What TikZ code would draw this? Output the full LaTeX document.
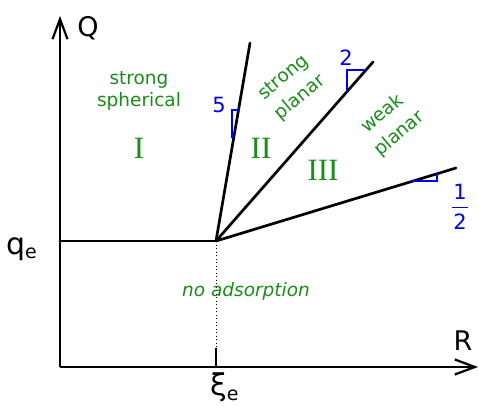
\documentclass[tikz,border=0pt]{standalone}
\usepackage{fontspec}
\setmainfont{DejaVu Sans}
\newfontfamily\romanfont{Liberation Serif}
\usetikzlibrary{arrows.meta}
\definecolor{lblgreen}{RGB}{25,140,25}
\definecolor{lblblue}{RGB}{0,0,240}
\tikzset{
  axisline/.style={line width=2.4pt,-{Straight Barb[length=20pt,width=15pt,line width=2.2pt]}},
  bound/.style={line width=2.7pt,line cap=round},
  slopetri/.style={lblblue,line width=1.2pt},
  regiontxt/.style={lblgreen,font=\fontsize{18.5}{22}\selectfont,align=center,inner sep=0pt},
  rottxt/.style={lblgreen,font=\fontsize{18.5}{26}\selectfont,align=center,inner sep=0pt,rotate=40},
  numeral/.style={lblgreen,font=\romanfont\fontsize{31}{31}\selectfont,inner sep=0pt},
  axislbl/.style={font=\fontsize{27}{27}\selectfont,inner sep=0pt},
  sublbl/.style={font=\fontsize{30}{30}\selectfont,inner sep=0pt},
  slopelbl/.style={lblblue,font=\fontsize{21}{21}\selectfont,inner sep=0pt},
}
\begin{document}
\begin{tikzpicture}[x=1pt,y=-1pt]
\useasboundingbox (0,0) rectangle (479,406);
% key points
\coordinate (O) at (60,367);
\coordinate (Ytop) at (60,16);
\coordinate (Xend) at (478,367);
\coordinate (Qe) at (60,241);
\coordinate (J) at (216,241);
\coordinate (A) at (250,43);
\coordinate (B) at (373,62);
\coordinate (C) at (456,168);
\coordinate (T) at (216,367);
\coordinate (D) at (216,348);
% axes
\draw[axisline] (O) -- (Ytop);
\draw[axisline] (O) -- (Xend);
% boundaries
\draw[bound] (Qe) -- (J);
\draw[bound] (J) -- (A);
\draw[bound] (J) -- (B);
\draw[bound] (J) -- (C);
% dotted and tick
\draw[line width=1pt,dash pattern=on 1pt off 2.5pt] (J) -- (D);
\draw[line width=1.4pt] (D) -- (T);
% slope triangles
\draw[slopetri] (232,138) -- (232,110) -- (239,110);
\draw[slopetri] (347,92) -- (347,70) -- (365,70);
\draw[slopetri] (411,181) -- (437,181) -- (437,173);
% slope labels
\node[slopelbl] (s5) at (219,105) {5};
\node[slopelbl] (s2) at (346,58) {2};
\node[slopelbl] (s1) at (460,192) {1};
\node[slopelbl] (s2b) at (460,222) {2};
\draw[lblblue,line width=1.3pt] (452,207.5) -- (468,207.5);
% axis labels
\node[axislbl] (Ql) at (88,28) {Q};
\node[axislbl] (Rl) at (463,341) {R};
\node[sublbl,anchor=base west] (ql) at (6,254) {q{\fontsize{19}{19}\selectfont\raisebox{-5pt}{e}}};
\node[sublbl,anchor=base west] (xil) at (210,395) {ξ{\fontsize{19}{19}\selectfont\raisebox{-5pt}{e}}};
% region labels
\node[regiontxt] (sph) at (139,91) {strong\\spherical};
\node[numeral] (n1) at (139,148) {I};
\node[numeral] (n2) at (261,148) {II};
\node[numeral] (n3) at (323,170) {III};
\node[rottxt] (spl) at (292,88) {strong\\planar};
\node[rottxt] (wpl) at (391,124) {weak\\planar};
\node[regiontxt,font=\itshape\fontsize{18.5}{22}\selectfont] (noad) at (246,291) {no adsorption};
\end{tikzpicture}
\end{document}
